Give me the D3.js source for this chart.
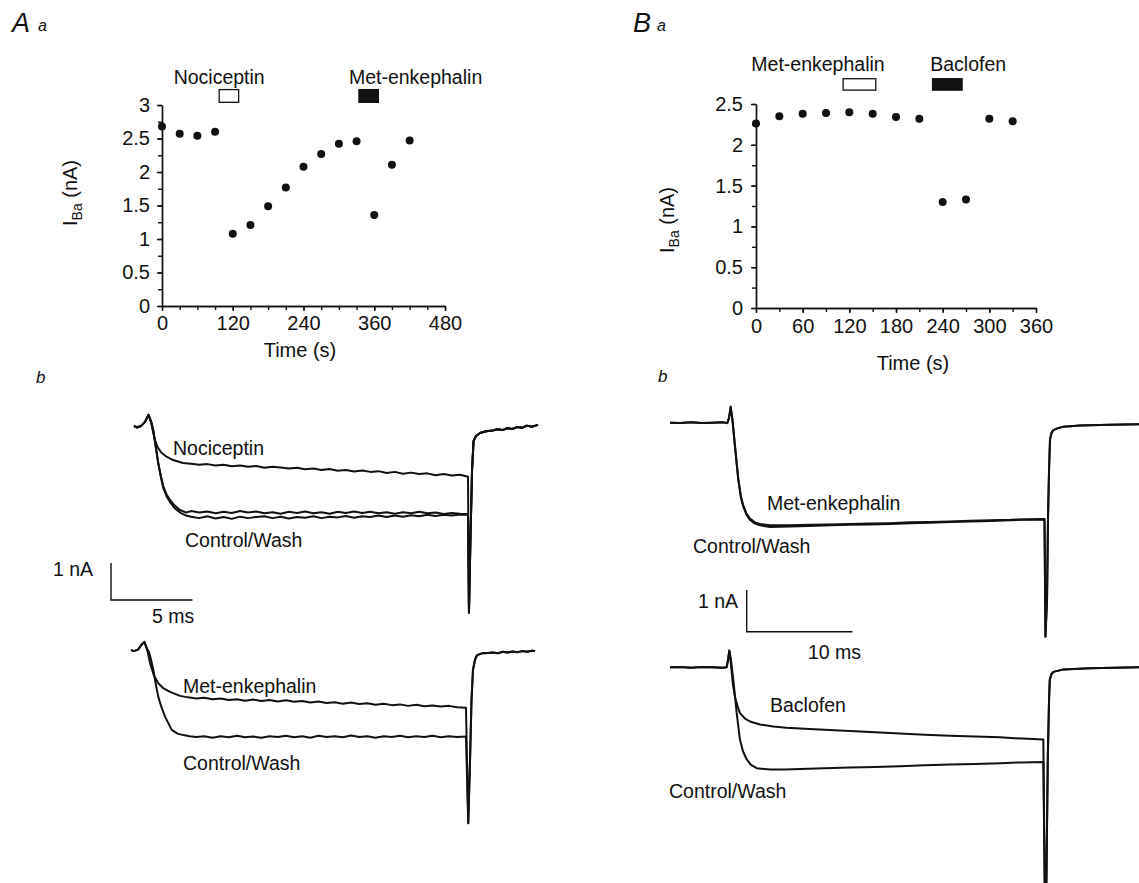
<!DOCTYPE html>
<html>
<head>
<meta charset="utf-8">
<script src="https://cdn.jsdelivr.net/npm/d3@7"></script>
<style>
  body { margin: 0; background: #fff; }
  svg { display: block; }
  text { fill: #111; }
</style>
</head>
<body>
<script>
// ---- time course data, panel A a (time in s, IBa in nA) ----
var timeA = [0, 30, 60, 90, 120, 150, 180, 210, 240, 270, 300, 330, 360, 390, 420];
var ibaA = [2.68, 2.57, 2.54, 2.60, 1.08, 1.21, 1.49, 1.77, 2.08, 2.27, 2.42, 2.46, 1.36, 2.11, 2.47];
var drugNamesA = ["Nociceptin", "Met-enkephalin"];
var drugStartA = [97, 334];
var drugEndA = [130, 367];
var xTicksA = [0, 120, 240, 360, 480];
var yTicksA = [0, 0.5, 1, 1.5, 2, 2.5, 3];

// ---- time course data, panel B a ----
var timeB = [0, 30, 60, 90, 120, 150, 180, 210, 240, 270, 300, 330];
var ibaB = [2.26, 2.35, 2.38, 2.39, 2.40, 2.38, 2.34, 2.32, 1.30, 1.33, 2.32, 2.29];
var drugNamesB = ["Met-enkephalin", "Baclofen"];
var drugStartB = [112, 227];
var drugEndB = [154, 265];
var xTicksB = [0, 60, 120, 180, 240, 300, 360];
var yTicksB = [0, 0.5, 1, 1.5, 2, 2.5];

// ---- current traces (t in ms, I in nA relative to holding level) ----
var startA1 = [[0,0],[0.18,-0.04],[0.43,0],[0.67,0.11],[0.89,0.30]];
var nocicA = [[1.05,0.10],[1.15,-0.12],[1.29,-0.38],[1.45,-0.58],[1.7,-0.73],[2.0,-0.83],[2.4,-0.92],[3.0,-1.0],
  [3.5,-1.02],[4.0,-1.05],[4.5,-1.03],[5.0,-1.07],[5.5,-1.05],[6.0,-1.09],[6.5,-1.07],[7.0,-1.10],[7.5,-1.08],
  [8.0,-1.13],[8.5,-1.10],[9.0,-1.12],[9.5,-1.15],[10.0,-1.13],[10.5,-1.17],[11.0,-1.15],[11.5,-1.19],[12.0,-1.16],
  [12.5,-1.21],[13.0,-1.19],[13.5,-1.23],[14.0,-1.20],[14.5,-1.24],[15.0,-1.22],[15.5,-1.27],[16.0,-1.24],
  [16.5,-1.29],[17.0,-1.26],[17.5,-1.30],[18.0,-1.28],[18.5,-1.33],[19.0,-1.30],[19.5,-1.34],[20.0,-1.32],[20.49,-1.37]];
var controlA = [[1.05,0.12],[1.18,-0.11],[1.33,-0.55],[1.49,-1.01],[1.65,-1.36],[1.8,-1.64],[2.0,-1.85],[2.21,-2.0],
  [2.5,-2.15],[2.82,-2.27],[3.2,-2.34],
  [3.5,-2.30],[4.0,-2.34],[4.5,-2.31],[5.0,-2.36],[5.5,-2.32],[6.0,-2.35],[6.5,-2.30],[7.0,-2.34],[7.5,-2.31],
  [8.0,-2.36],[8.5,-2.33],[9.0,-2.37],[9.5,-2.32],[10.0,-2.35],[10.5,-2.31],[11.0,-2.36],[11.5,-2.33],[12.0,-2.37],
  [12.5,-2.32],[13.0,-2.35],[13.5,-2.31],[14.0,-2.35],[14.5,-2.32],[15.0,-2.36],[15.5,-2.33],[16.0,-2.37],
  [16.5,-2.33],[17.0,-2.36],[17.5,-2.32],[18.0,-2.36],[18.5,-2.34],[19.0,-2.38],[19.5,-2.35],[20.0,-2.37],[20.49,-2.38]];
var washA = [[1.05,0.12],[1.18,-0.11],[1.33,-0.55],[1.49,-1.01],[1.65,-1.38],[1.8,-1.68],[2.0,-1.90],[2.21,-2.06],
  [2.5,-2.22],[2.82,-2.34],[3.2,-2.42],
  [3.5,-2.45],[4.0,-2.49],[4.5,-2.44],[5.0,-2.50],[5.5,-2.46],[6.0,-2.51],[6.5,-2.45],[7.0,-2.49],[7.5,-2.46],
  [8.0,-2.44],[8.5,-2.49],[9.0,-2.45],[9.5,-2.50],[10.0,-2.46],[10.5,-2.48],[11.0,-2.44],[11.5,-2.49],[12.0,-2.45],
  [12.5,-2.47],[13.0,-2.43],[13.5,-2.48],[14.0,-2.44],[14.5,-2.46],[15.0,-2.42],[15.5,-2.46],[16.0,-2.42],
  [16.5,-2.45],[17.0,-2.41],[17.5,-2.44],[18.0,-2.40],[18.5,-2.43],[19.0,-2.40],[19.5,-2.42],[20.0,-2.39],[20.49,-2.40]];
var tailA1 = [[20.55,-5.05],[20.64,-3.08],[20.74,-1.19],[20.83,-0.41],[20.98,-0.27],[21.23,-0.19],[21.6,-0.14],
  [22.0,-0.12],[22.3,-0.09],[22.6,-0.11],[22.9,-0.06],[23.2,-0.08],[23.5,-0.03],[23.8,-0.05],[24.1,0.01],[24.4,-0.02],[24.79,0.03]];

var startA2 = [[0,0],[0.18,-0.03],[0.43,0.01],[0.64,0.14],[0.82,0.22]];
var metA = [[0.95,0.08],[1.05,-0.1],[1.17,-0.36],[1.4,-0.68],[1.67,-0.9],[2.0,-1.04],[2.39,-1.13],[3.01,-1.24],[3.5,-1.28],
  [4.0,-1.31],[4.5,-1.29],[5.0,-1.33],[5.5,-1.31],[6.0,-1.35],[6.5,-1.33],[7.0,-1.37],[7.5,-1.34],[8.0,-1.38],
  [8.5,-1.35],[9.0,-1.39],[9.5,-1.36],[10.0,-1.40],[10.5,-1.38],[11.0,-1.42],[11.5,-1.39],[12.0,-1.43],[12.5,-1.41],
  [13.0,-1.45],[13.5,-1.42],[14.0,-1.46],[14.5,-1.44],[15.0,-1.48],[15.5,-1.45],[16.0,-1.49],[16.5,-1.47],
  [17.0,-1.51],[17.5,-1.48],[18.0,-1.52],[18.5,-1.50],[19.0,-1.53],[19.5,-1.51],[20.0,-1.55],[20.55,-1.56]];
var controlA2 = [[0.95,0.05],[1.1,-0.05],[1.25,-0.3],[1.37,-0.54],[1.52,-0.92],[1.67,-1.26],[1.88,-1.56],[2.09,-1.8],
  [2.5,-2.16],[2.85,-2.26],[3.21,-2.30],[3.6,-2.33],
  [4.0,-2.35],[4.5,-2.33],[5.0,-2.37],[5.5,-2.33],[6.0,-2.36],[6.5,-2.32],[7.0,-2.36],[7.5,-2.34],[8.0,-2.37],
  [8.5,-2.33],[9.0,-2.35],[9.5,-2.32],[10.0,-2.36],[10.5,-2.33],[11.0,-2.37],[11.5,-2.32],[12.0,-2.35],[12.5,-2.33],
  [13.0,-2.36],[13.5,-2.31],[14.0,-2.35],[14.5,-2.33],[15.0,-2.37],[15.5,-2.33],[16.0,-2.35],[16.5,-2.32],
  [17.0,-2.36],[17.5,-2.33],[18.0,-2.35],[18.5,-2.32],[19.0,-2.36],[19.5,-2.33],[20.0,-2.35],[20.55,-2.34]];
var tailA2 = [[20.69,-4.68],[20.8,-2.97],[20.89,-1.35],[20.98,-0.54],[21.1,-0.27],[21.23,-0.14],[21.53,-0.09],
  [21.9,-0.08],[22.2,-0.07],[22.5,-0.09],[22.8,-0.05],[23.1,-0.07],[23.4,-0.04],[23.7,-0.06],[24.0,-0.03],
  [24.3,-0.05],[24.6,-0.02],[24.79,-0.03]];

var startB1 = [[0,0],[1.0,-0.01],[2.0,0.01],[3.0,-0.01],[4.0,0],[5.0,0.01],[5.42,-0.01],[5.58,0.11],[5.74,0.38]];
var controlB1 = [[5.91,0.06],[6.15,-0.58],[6.46,-1.37],[6.72,-1.81],[6.93,-2.01],[7.24,-2.21],[7.57,-2.33],[8.04,-2.42],
  [8.51,-2.46],[9.46,-2.50],[11.35,-2.49],[13.2,-2.48],[15.14,-2.46],[17.0,-2.45],[18.92,-2.44],[20.8,-2.43],
  [22.71,-2.41],[24.6,-2.40],[26.49,-2.38],[28.4,-2.37],[30.27,-2.36],[32.2,-2.34],[33.11,-2.33],[35.43,-2.32]];
var metB1 = [[5.91,0.06],[6.15,-0.56],[6.46,-1.34],[6.72,-1.78],[6.93,-1.98],[7.24,-2.18],[7.57,-2.30],[8.04,-2.39],
  [8.51,-2.43],[9.46,-2.46],[11.35,-2.46],[13.2,-2.45],[15.14,-2.44],[17.0,-2.43],[18.92,-2.42],[20.8,-2.41],
  [22.71,-2.39],[24.6,-2.38],[26.49,-2.37],[28.4,-2.35],[30.27,-2.34],[32.2,-2.33],[33.11,-2.32],[35.43,-2.31]];
var tailB1 = [[35.52,-5.13],[35.67,-4.25],[35.76,-2.33],[35.86,-1.13],[35.95,-0.41],[36.09,-0.25],[36.26,-0.18],
  [36.71,-0.13],[37.18,-0.10],[38.79,-0.07],[41.63,-0.05],[44.37,-0.04]];

var startB2 = [[0,0],[1.0,0.01],[2.0,-0.01],[3.0,0.01],[4.0,0],[5.0,-0.01],[5.36,0],[5.49,0.18],[5.61,0.40]];
var baclofenB2 = [[5.77,0.06],[5.96,-0.42],[6.15,-0.71],[6.39,-0.93],[6.62,-1.10],[7.10,-1.23],[7.57,-1.30],[8.51,-1.37],
  [9.77,-1.42],[11.0,-1.45],[12.30,-1.47],[14.6,-1.50],[17.03,-1.53],[19.4,-1.56],[21.76,-1.59],[24.1,-1.62],
  [26.49,-1.64],[28.9,-1.66],[31.22,-1.68],[33.3,-1.71],[35.32,-1.73]];
var controlB2 = [[5.77,0.18],[5.99,-0.30],[6.31,-1.10],[6.62,-1.74],[6.91,-2.02],[7.26,-2.21],[7.66,-2.34],[8.20,-2.42],
  [9.46,-2.45],[10.9,-2.45],[12.30,-2.44],[14.6,-2.42],[17.03,-2.40],[19.4,-2.39],[21.76,-2.37],[24.1,-2.35],
  [26.49,-2.33],[28.9,-2.32],[31.22,-2.30],[33.3,-2.28],[35.32,-2.27]];
var tailB2 = [[35.46,-5.4],[35.6,-5.4],[35.74,-2.22],[35.86,-0.78],[35.93,-0.30],[36.09,-0.16],[36.28,-0.11],
  [37.23,-0.05],[39.74,-0.02],[44.37,0]];

var scaleBarA = [1, 5];   // nA, ms
var scaleBarB = [1, 10];  // nA, ms

var FONT = "'Liberation Sans', Arial, Helvetica, sans-serif";

var svg = d3.select("body").append("svg")
  .attr("width", 1139).attr("height", 883)
  .style("font-family", FONT);

svg.append("rect").attr("width", 1139).attr("height", 883).attr("fill", "#fff");

function label(x, y, str, size, anchor, italic) {
  return svg.append("text").attr("x", x).attr("y", y)
    .attr("font-size", size)
    .attr("text-anchor", anchor || "start")
    .attr("font-style", italic ? "italic" : null)
    .text(str);
}

function styleAxis(g) {
  g.attr("font-size", 20).attr("font-family", FONT);
  g.selectAll("path, line").attr("stroke", "#111").attr("stroke-width", 1.4);
  g.selectAll("text").attr("fill", "#111");
}

// time-course panel
function timeCourse(p) {
  var x = d3.scaleLinear().domain(p.xDomain).range(p.xRange);
  var y = d3.scaleLinear().domain(p.yDomain).range(p.yRange);
  var g = svg.append("g");

  var minorX = d3.range(p.xDomain[0], p.xDomain[1] + 1, 30);
  var minorY = d3.range(p.yDomain[0], p.yDomain[1] + 0.01, 0.25);

  g.append("g").attr("transform", "translate(0," + p.yRange[0] + ")")
    .call(d3.axisBottom(x).tickValues(minorX).tickFormat("").tickSize(4).tickSizeOuter(0))
    .call(styleAxis);
  g.append("g").attr("transform", "translate(0," + p.yRange[0] + ")")
    .call(d3.axisBottom(x).tickValues(p.xTicks).tickSize(5).tickPadding(p.xPad).tickSizeOuter(0))
    .call(styleAxis);
  g.append("g").attr("transform", "translate(" + p.xRange[0] + ",0)")
    .call(d3.axisLeft(y).tickValues(minorY).tickFormat("").tickSize(4).tickSizeOuter(0))
    .call(styleAxis);
  g.append("g").attr("transform", "translate(" + p.xRange[0] + ",0)")
    .call(d3.axisLeft(y).tickValues(p.yTicks).tickSize(5).tickPadding(p.yPad).tickSizeOuter(0)
      .tickFormat(d3.format("")))
    .call(styleAxis);

  g.selectAll("circle.pt").data(p.times).join("circle")
    .attr("class", "pt")
    .attr("cx", function(d) { return x(d); })
    .attr("cy", function(d, i) { return y(p.values[i]); })
    .attr("r", 4).attr("fill", "#111");

  // drug application bars
  p.names.forEach(function(name, i) {
    g.append("rect")
      .attr("x", x(p.starts[i])).attr("width", x(p.ends[i]) - x(p.starts[i]))
      .attr("y", y(p.barTop)).attr("height", y(p.barBottom) - y(p.barTop))
      .attr("fill", i === 0 ? "#fff" : "#111")
      .attr("stroke", "#111").attr("stroke-width", 1.3);
    g.append("text")
      .attr("x", x(p.labelAt[i])).attr("y", y(p.labelY))
      .attr("text-anchor", p.labelAnchor[i])
      .attr("font-size", 19.5)
      .text(name);
  });

  // axis titles
  g.append("text").attr("x", p.titleX[0]).attr("y", p.titleX[1])
    .attr("text-anchor", "middle").attr("font-size", 20).text("Time (s)");
  var yl = g.append("text")
    .attr("transform", "translate(" + p.titleY[0] + "," + p.titleY[1] + ") rotate(-90)")
    .attr("text-anchor", "middle").attr("font-size", 20);
  yl.append("tspan").text("I");
  yl.append("tspan").attr("font-size", 14).attr("dy", 5).text("Ba");
  yl.append("tspan").attr("dy", -5).text(" (nA)");
}

timeCourse({
  xDomain: [0, 480], xRange: [162, 445], yDomain: [0, 3], yRange: [306, 105],
  xTicks: xTicksA, yTicks: yTicksA, xPad: 5, yPad: 7,
  times: timeA, values: ibaA,
  names: drugNamesA, starts: drugStartA, ends: drugEndA,
  barTop: 3.23, barBottom: 3.04, labelY: 3.31,
  labelAt: [97, 317], labelAnchor: ["middle", "start"],
  titleX: [300, 357], titleY: [77, 193]
});

timeCourse({
  xDomain: [0, 360], xRange: [756, 1036], yDomain: [0, 2.5], yRange: [308, 104],
  xTicks: xTicksB, yTicks: yTicksB, xPad: 6, yPad: 8,
  times: timeB, values: ibaB,
  names: drugNamesB, starts: drugStartB, ends: drugEndB,
  barTop: 2.81, barBottom: 2.67, labelY: 2.90,
  labelAt: [-6, 224], labelAnchor: ["start", "start"],
  titleX: [913, 370], titleY: [674, 220]
});

// current traces
function tracePanel(p) {
  var x = d3.scaleLinear().domain([0, 1]).range([0, p.pxPerMs]);
  var y = d3.scaleLinear().domain([0, 1]).range([0, -p.pxPerNa]);
  var line = d3.line().x(function(d) { return x(d[0]); }).y(function(d) { return y(d[1]); });
  var g = svg.append("g").attr("transform", "translate(" + p.origin[0] + "," + p.origin[1] + ")");
  p.traces.forEach(function(tr) {
    g.append("path").attr("d", line(tr)).attr("fill", "none")
      .attr("stroke", "#111").attr("stroke-width", p.width)
      .attr("stroke-linejoin", "round");
  });
  return { x: x, y: y };
}

var sA = tracePanel({ origin: [134, 426], pxPerMs: 16.3, pxPerNa: 37, width: 2,
  traces: [startA1.concat(nocicA, tailA1), startA1.concat(controlA, tailA1), startA1.concat(washA, tailA1)] });
tracePanel({ origin: [131, 650], pxPerMs: 16.3, pxPerNa: 37, width: 2,
  traces: [startA2.concat(metA, tailA2), startA2.concat(controlA2, tailA2)] });
var sB = tracePanel({ origin: [670, 422.7], pxPerMs: 10.57, pxPerNa: 41.7, width: 2,
  traces: [startB1.concat(controlB1, tailB1), startB1.concat(metB1, tailB1)] });
tracePanel({ origin: [670, 667.3], pxPerMs: 10.57, pxPerNa: 41.7, width: 2,
  traces: [startB2.concat(baclofenB2, tailB2), startB2.concat(controlB2, tailB2)] });

// scale bars
function scaleBar(s, ox, oy, vals) {
  var g = svg.append("g").attr("transform", "translate(" + ox + "," + oy + ")");
  g.append("path")
    .attr("d", "M0," + s.y(vals[0]) + "V0H" + s.x(vals[1]))
    .attr("fill", "none").attr("stroke", "#111").attr("stroke-width", 1.4);
}
scaleBar(sA, 111, 600, scaleBarA);
scaleBar(sB, 746.7, 631.7, scaleBarB);

// panel letters
label(12, 32, "A", 27, "start", true);
label(38, 31, "a", 16, "start", true);
label(633, 32, "B", 27, "start", true);
label(657, 31, "a", 16, "start", true);
label(36, 383, "b", 17, "start", true);
label(658, 382, "b", 17, "start", true);

// trace annotations
label(173, 455, "Nociceptin", 19.5);
label(185, 547, "Control/Wash", 19.5);
label(183, 693, "Met-enkephalin", 19.5);
label(183, 770, "Control/Wash", 19.5);
label(93, 576, scaleBarA[0] + " nA", 19.5, "end");
label(152, 623, scaleBarA[1] + " ms", 19.5);

label(767, 510, "Met-enkephalin", 19.5);
label(693, 553, "Control/Wash", 19.5);
label(770, 712, "Baclofen", 19.5);
label(669, 798, "Control/Wash", 19.5);
label(738, 608, scaleBarB[0] + " nA", 19.5, "end");
label(808, 659, scaleBarB[1] + " ms", 19.5);
</script>
</body>
</html>
